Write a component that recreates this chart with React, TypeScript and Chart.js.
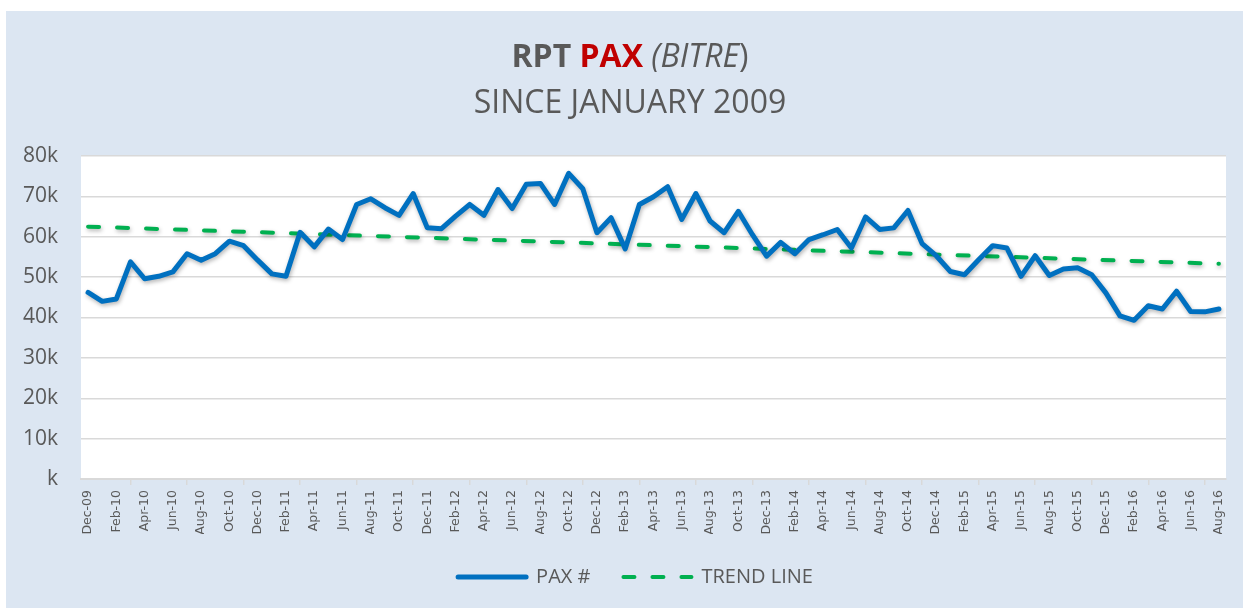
import React, { useEffect, useRef } from "react";
import { Chart, registerables } from "chart.js";

Chart.register(...registerables);

const months = [
  "Dec-09",
  "Jan-10", "Feb-10", "Mar-10", "Apr-10", "May-10", "Jun-10", "Jul-10", "Aug-10", "Sep-10", "Oct-10", "Nov-10", "Dec-10",
  "Jan-11", "Feb-11", "Mar-11", "Apr-11", "May-11", "Jun-11", "Jul-11", "Aug-11", "Sep-11", "Oct-11", "Nov-11", "Dec-11",
  "Jan-12", "Feb-12", "Mar-12", "Apr-12", "May-12", "Jun-12", "Jul-12", "Aug-12", "Sep-12", "Oct-12", "Nov-12", "Dec-12",
  "Jan-13", "Feb-13", "Mar-13", "Apr-13", "May-13", "Jun-13", "Jul-13", "Aug-13", "Sep-13", "Oct-13", "Nov-13", "Dec-13",
  "Jan-14", "Feb-14", "Mar-14", "Apr-14", "May-14", "Jun-14", "Jul-14", "Aug-14", "Sep-14", "Oct-14", "Nov-14", "Dec-14",
  "Jan-15", "Feb-15", "Mar-15", "Apr-15", "May-15", "Jun-15", "Jul-15", "Aug-15", "Sep-15", "Oct-15", "Nov-15", "Dec-15",
  "Jan-16", "Feb-16", "Mar-16", "Apr-16", "May-16", "Jun-16", "Jul-16", "Aug-16",
];

const paxValues = [
  46200,
  44000, 44600, 53800, 49600, 50200, 51300, 55800, 54200, 55800, 58900, 57800, 54200,
  50800, 50200, 61100, 57500, 61900, 59300, 68000, 69400, 67200, 65300, 70700, 62200,
  62000, 65100, 68000, 65300, 71700, 67000, 73000, 73200, 68000, 75700, 71900, 61000,
  64700, 57000, 68000, 69900, 72400, 64300, 70700, 63900, 61000, 66300, 60500, 55200,
  58600, 55800, 59300, 60500, 61800, 57200, 64900, 61800, 62200, 66500, 58300, 55300,
  51400, 50600, 54300, 57800, 57200, 50200, 55300, 50400, 52000, 52300, 50600, 46100,
  40400, 39300, 42900, 42100, 46500, 41500, 41400, 42100,
];

const trendMonths = ["Dec-09", "Aug-16"];
const trendValues = [62500, 53300];

const yTickLabels = ["k", "10k", "20k", "30k", "40k", "50k", "60k", "70k", "80k"];

const seriesLabels = ["PAX #", "TREND LINE"];

const GREY = "#595959";
const GRID = "#d9d9d9";
const BLUE = "#0070C0";
const GREEN = "#00B050";
const BG = "#dce6f2";

const backgroundPlugin = {
  id: "bgPlugin",
  beforeDraw(chart: any) {
    const { ctx, chartArea } = chart;
    ctx.save();
    ctx.fillStyle = BG;
    ctx.fillRect(6, 11, 1237, 597);
    ctx.fillStyle = "#ffffff";
    ctx.fillRect(chartArea.left, chartArea.top, chartArea.right - chartArea.left, chartArea.bottom - chartArea.top);
    ctx.restore();
  },
};

const shadowPlugin = {
  id: "shadowPlugin",
  beforeDatasetDraw(chart: any) {
    const ctx = chart.ctx;
    ctx.save();
    ctx.shadowColor = "rgba(0,0,0,0.3)";
    ctx.shadowBlur = 4;
    ctx.shadowOffsetX = 1;
    ctx.shadowOffsetY = 2;
  },
  afterDatasetDraw(chart: any) {
    chart.ctx.restore();
  },
};

export default function App() {
  const ref = useRef<HTMLCanvasElement>(null);

  useEffect(() => {
    document.body.style.margin = "0";
    const canvas = ref.current;
    if (!canvas) return;
    const chart = new Chart(canvas, {
      type: "line",
      data: {
        labels: months,
        datasets: [
          {
            label: seriesLabels[0],
            data: paxValues,
            borderColor: BLUE,
            backgroundColor: BLUE,
            borderWidth: 5,
            borderCapStyle: "round",
            borderJoinStyle: "round",
            pointRadius: 0,
            tension: 0,
            order: 1,
          },
          {
            label: seriesLabels[1],
            data: trendMonths.map((m, i) => ({ x: m, y: trendValues[i] })),
            borderColor: GREEN,
            backgroundColor: GREEN,
            borderWidth: 4,
            borderDash: [11, 18],
            borderCapStyle: "round",
            pointRadius: 0,
            tension: 0,
            order: 2,
          },
        ] as any,
      },
      options: {
        animation: false,
        responsive: false,
        devicePixelRatio: 1,
        layout: { padding: { top: 156, left: 45, right: 17, bottom: 13 } },
        plugins: {
          title: { display: false },
          tooltip: { enabled: false },
          legend: {
            display: true,
            position: "bottom",
            labels: {
              usePointStyle: true,
              pointStyle: "line",
              pointStyleWidth: 68,
              padding: 33,
              color: GREY,
              font: { family: "'Open Sans'", size: 20 },
              generateLabels: (c: any) =>
                c.data.datasets.map((ds: any, i: number) => ({
                  text: ds.label,
                  fillStyle: ds.borderColor,
                  strokeStyle: ds.borderColor,
                  lineWidth: ds.borderWidth,
                  lineDash: ds.borderDash || [],
                  lineCap: "round",
                  pointStyle: "line",
                  hidden: false,
                  datasetIndex: i,
                  fontColor: GREY,
                })),
            },
          },
        },
        scales: {
          x: {
            type: "category",
            offset: true,
            afterFit: (s: any) => {
              s.height = 55;
            },
            border: { display: true, color: GRID, width: 2 },
            grid: {
              offset: true,
              drawOnChartArea: false,
              drawTicks: true,
              tickLength: 6,
              lineWidth: 1.5,
              color: (ctx: any) => (ctx.index % 2 === 0 ? GRID : "rgba(0,0,0,0)"),
              tickColor: (ctx: any) => (ctx.index % 2 === 0 ? GRID : "rgba(0,0,0,0)"),
            },
            ticks: {
              autoSkip: false,
              maxRotation: 90,
              minRotation: 90,
              padding: 5,
              color: GREY,
              font: { family: "'DejaVu Sans'", size: 12.5 },
              callback: (_v: any, i: number) => (i % 2 === 0 ? months[i] : null),
            },
          },
          y: {
            min: 0,
            max: 80000,
            afterFit: (s: any) => {
              s.width = 36;
            },
            border: { display: false },
            grid: { color: GRID, lineWidth: 1.5, drawTicks: false },
            ticks: {
              stepSize: 10000,
              mirror: true,
              crossAlign: "far",
              padding: -58,
              color: GREY,
              font: { family: "'Open Sans'", size: 21 },
              callback: (_v: any, i: number) => yTickLabels[i],
            },
          },
        },
      } as any,
      plugins: [backgroundPlugin, shadowPlugin],
    });
    return () => chart.destroy();
  }, []);

  return (
    <div style={{ position: "relative", width: 1243, height: 610, overflow: "hidden", fontFamily: "'Open Sans', sans-serif" }}>
      <canvas ref={ref} width={1243} height={610} style={{ position: "absolute", left: 0, top: 0, width: 1243, height: 610 }} />
      <div
        style={{
          position: "absolute",
          left: 0,
          top: 39,
          width: 1260,
          textAlign: "center",
          fontSize: 32,
          lineHeight: "32px",
          color: GREY,
          whiteSpace: "nowrap",
        }}
      >
        <span style={{ fontWeight: 700 }}>RPT</span> <span style={{ fontWeight: 700, color: "#C00000" }}>PAX</span>{" "}
        <span style={{ fontStyle: "italic" }}>(BITRE</span>)
      </div>
      <div
        style={{
          position: "absolute",
          left: 0,
          top: 85,
          width: 1260,
          textAlign: "center",
          fontSize: 32,
          lineHeight: "32px",
          color: GREY,
          whiteSpace: "nowrap",
        }}
      >
        SINCE JANUARY 2009
      </div>
    </div>
  );
}
